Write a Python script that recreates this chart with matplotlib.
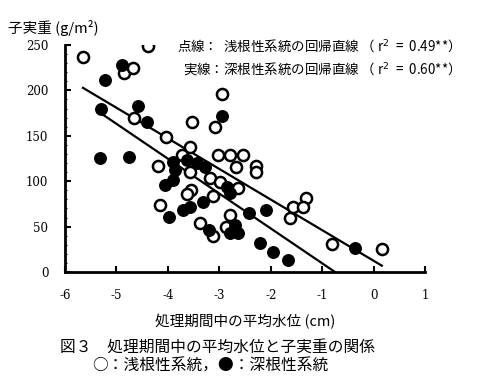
import numpy as np
import matplotlib
matplotlib.use('Agg')
import matplotlib.pyplot as plt

plt.rcParams['font.family'] = ['Noto Sans CJK JP', 'DejaVu Sans']

# shallow-rooted lines (open circles): mean water level (cm), grain weight (g/m2)
shallow_x = [-5.65, -4.39, -4.85, -4.68, -4.66, -4.04, -3.53, -3.08, -2.95, -3.57,
             -3.03, -2.79, -2.54, -2.68, -2.29, -2.29, -3.73, -4.19, -3.57, -3.18,
             -2.99, -2.64, -3.55, -3.63, -3.12, -4.15, -2.79, -3.38, -2.87, -3.12,
             -1.31, -1.57, -1.37, -1.62, -0.81, 0.16]
shallow_y = [237, 249, 219, 225, 170, 149, 165, 160, 196, 138,
             129, 129, 129, 116, 117, 110, 129, 117, 110, 104,
             99, 92, 90, 86, 84, 74, 63, 54, 50, 40,
             81, 72, 72, 59, 31, 25]

# deep-rooted lines (filled circles)
deep_x = [-4.89, -5.22, -5.30, -4.58, -4.41, -5.32, -4.76, -3.90, -3.86, -3.90,
          -4.06, -3.63, -3.43, -3.28, -2.85, -2.79, -3.71, -3.57, -3.32, -3.98,
          -3.20, -2.79, -2.64, -2.69, -2.42, -2.09, -2.21, -1.96, -1.66, -0.36,
          -2.95]
deep_y = [228, 211, 180, 183, 165, 126, 127, 121, 112, 101,
          96, 123, 120, 116, 94, 87, 68, 72, 77, 61,
          46, 43, 43, 52, 65, 68, 32, 22, 13, 26,
          172]

# regression lines: slope, intercept, x range
shallow_fit = [-33.7, 12.4]
shallow_xr = [-5.65, 0.16]
deep_fit = [-38.4, -28.8]
deep_xr = [-5.26, -0.72]

xticks = [-6, -5, -4, -3, -2, -1, 0, 1]
yticks = [0, 50, 100, 150, 200, 250]

fig = plt.figure(figsize=(4.96, 3.90), dpi=100)
ax = fig.add_axes([65/496, 1-272/390, 360/496, 227/390])

for fit, xr in [(shallow_fit, shallow_xr), (deep_fit, deep_xr)]:
    xs = np.array(xr)
    ax.plot(xs, fit[0]*xs + fit[1], color='black', lw=1.6, clip_on=True, zorder=2)

ax.plot(shallow_x, shallow_y, 'o', ms=8, mfc='white', mec='black', mew=1.8, zorder=3)
ax.plot(deep_x, deep_y, 'o', ms=8.3, mfc='black', mec='black', mew=1, zorder=4)

ax.set_xlim(-6, 1)
ax.set_ylim(0, 250)
ax.set_xticks(xticks)
ax.set_yticks(yticks)
ax.set_yticks(np.arange(0, 251, 10), minor=True)
ax.set_xticklabels([str(t) for t in xticks], family='DejaVu Serif', fontsize=8.5)
ax.set_yticklabels([str(t) for t in yticks], family='DejaVu Serif', fontsize=8.5)
ax.tick_params(axis='both', which='major', direction='in', length=4, width=1.5)
ax.tick_params(axis='x', pad=12)
ax.tick_params(axis='y', pad=12)
ax.tick_params(axis='y', which='minor', direction='in', length=1.5, width=0.8)
for s in ['top', 'right']:
    ax.spines[s].set_visible(False)
for s in ['left', 'bottom']:
    ax.spines[s].set_linewidth(2)

fig.text(8/496, 1-28/390, '子実重 (g/m²)', fontsize=10.5, va='center', ha='left')
fig.text(177/496, 1-46/390, '点線：  浅根性系統の回帰直線 （ r$^2$  =  0.49**）',
         fontsize=9.7, va='center', ha='left')
fig.text(183/496, 1-69/390, '実線：深根性系統の回帰直線 （ r$^2$  =  0.60**）',
         fontsize=9.7, va='center', ha='left')
fig.text(245/496, 1-322/390, '処理期間中の平均水位 (cm)', fontsize=10.5, va='center', ha='center')
fig.text(60/496, 1-347/390, '図３　処理期間中の平均水位と子実重の関係', fontsize=11.3,
         va='center', ha='left')
fig.text(92/496, 1-366/390, '○：浅根性系統，●：深根性系統', fontsize=11.3,
         va='center', ha='left')

fig.savefig('out.png', dpi=100)
